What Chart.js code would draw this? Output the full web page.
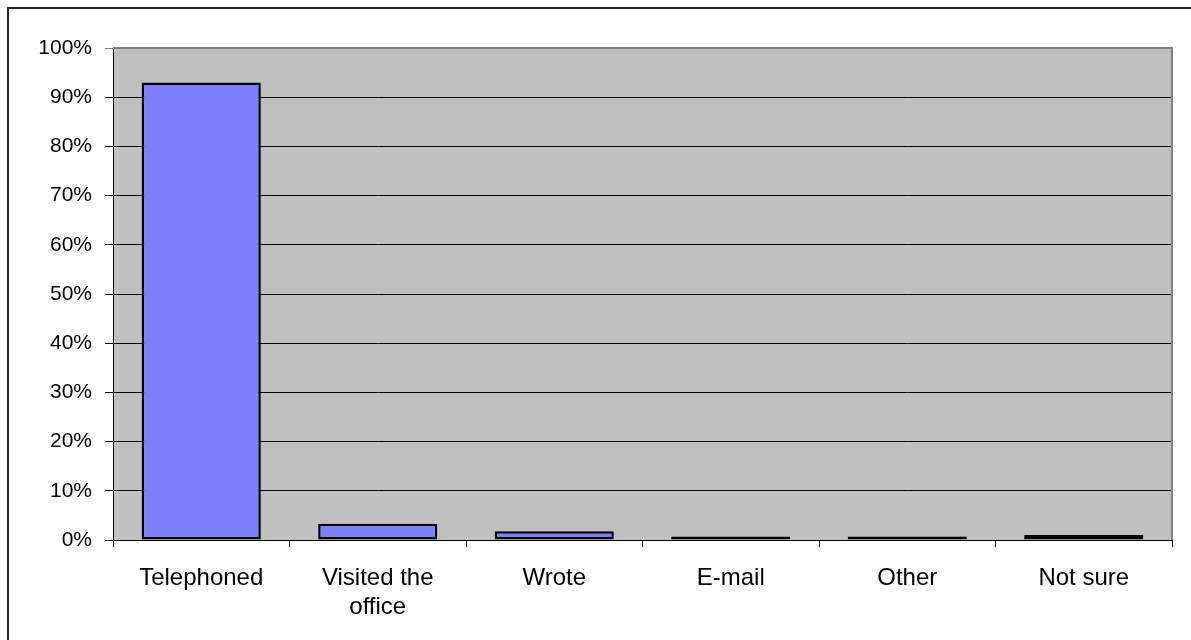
<!DOCTYPE html>
<html>
<head>
<meta charset="utf-8">
<script src="https://cdn.jsdelivr.net/npm/chart.js@4"></script>
<style>
    html, body { margin: 0; padding: 0; background: #fff; }
    #wrap { position: relative; width: 1191px; height: 640px; overflow: hidden; }
</style>
</head>
<body>
<div id="wrap"><canvas id="grafica" width="1191" height="640"></canvas></div>
<script>
// Datos del grafico
const categorias = ['Telephoned', ['Visited the', 'office'], 'Wrote', 'E-mail', 'Other', 'Not sure'];
const porcentajes = [93, 3.3, 1.8, 0.7, 0.7, 1.0];
const marcasY = [0, 10, 20, 30, 40, 50, 60, 70, 80, 90, 100];

// Fondo gris del area de trazado y bordes
const fondoPlugin = {
    id: 'fondo',
    beforeDraw(chart) {
        const { ctx, chartArea: a } = chart;
        ctx.save();
        ctx.fillStyle = '#C0C0C0';
        ctx.fillRect(a.left, a.top, a.right - a.left, a.bottom - a.top);
        ctx.restore();
    },
    afterDraw(chart) {
        const { ctx, chartArea: a } = chart;
        ctx.save();
        // borde gris arriba y a la derecha
        ctx.strokeStyle = '#808080';
        ctx.lineWidth = 2;
        ctx.beginPath();
        ctx.moveTo(a.left, a.top);
        ctx.lineTo(a.right, a.top);
        ctx.lineTo(a.right, a.bottom);
        ctx.stroke();
        // marco exterior
        ctx.strokeStyle = '#262626';
        ctx.lineWidth = 2;
        ctx.strokeRect(8, 8, 1400, 1000);
        ctx.restore();
    }
};

new Chart(document.getElementById('grafica'), {
    type: 'bar',
    data: {
        labels: categorias,
        datasets: [{
            data: porcentajes,
            backgroundColor: '#8080FF',
            borderColor: '#000',
            borderWidth: 2.5,
            borderSkipped: false,
            barPercentage: 0.675,
            categoryPercentage: 1
        }]
    },
    options: {
        responsive: false,
        animation: false,
        layout: { padding: { top: 48, right: 19, left: 0, bottom: 0 } },
        plugins: { legend: { display: false }, tooltip: { enabled: false } },
        scales: {
            x: {
                offset: true,
                afterFit: s => { s.height = 100; },
                grid: { offset: true, drawOnChartArea: false, color: '#000', tickLength: 7 },
                border: { color: '#000', width: 1 },
                ticks: {
                    color: '#000', padding: 17, maxRotation: 0, autoSkip: false,
                    font: { family: 'Liberation Sans, Arial, sans-serif', size: 24, lineHeight: 1.2 }
                }
            },
            y: {
                min: 0, max: 100,
                afterFit: s => { s.width = 113; },
                afterBuildTicks: s => { s.ticks = marcasY.map(v => ({ value: v })); },
                grid: {
                    color: ctx => (ctx.tick && ctx.tick.value === 100) ? '#808080' : '#000',
                    tickLength: 8
                },
                border: { color: '#000', width: 1 },
                ticks: {
                    color: '#000', padding: 13,
                    font: { family: 'Liberation Sans, Arial, sans-serif', size: 21 },
                    callback: v => v + '%'
                }
            }
        }
    },
    plugins: [fondoPlugin]
});
</script>
</body>
</html>
